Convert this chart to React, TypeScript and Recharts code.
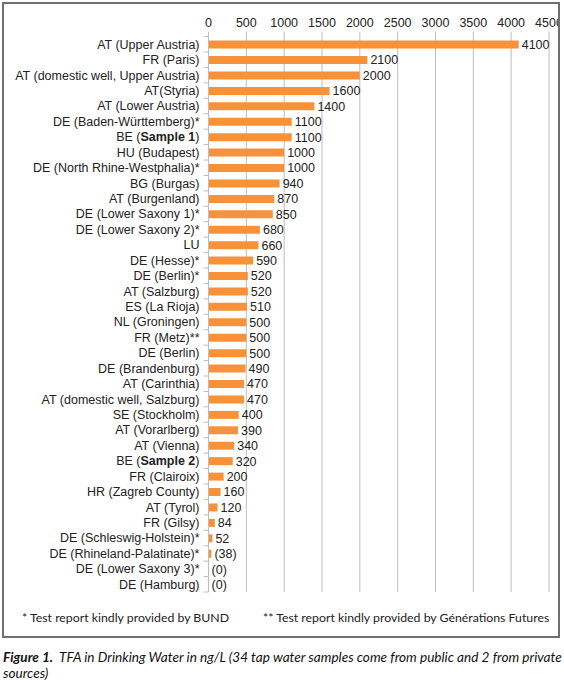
import React from "react";
import { BarChart, Bar, XAxis, YAxis, CartesianGrid, LabelList } from "recharts";

const CATEGORIES = [
  "AT (Upper Austria)",
  "FR (Paris)",
  "AT (domestic well, Upper Austria)",
  "AT(Styria)",
  "AT (Lower Austria)",
  "DE (Baden-Württemberg)*",
  "BE (Sample 1)",
  "HU (Budapest)",
  "DE (North Rhine-Westphalia)*",
  "BG (Burgas)",
  "AT (Burgenland)",
  "DE (Lower Saxony 1)*",
  "DE (Lower Saxony 2)*",
  "LU",
  "DE (Hesse)*",
  "DE (Berlin)*",
  "AT (Salzburg)",
  "ES (La Rioja)",
  "NL (Groningen)",
  "FR (Metz)**",
  "DE (Berlin)",
  "DE (Brandenburg)",
  "AT (Carinthia)",
  "AT (domestic well, Salzburg)",
  "SE (Stockholm)",
  "AT (Vorarlberg)",
  "AT (Vienna)",
  "BE (Sample 2)",
  "FR (Clairoix)",
  "HR (Zagreb County)",
  "AT (Tyrol)",
  "FR (Gilsy)",
  "DE (Schleswig-Holstein)*",
  "DE (Rhineland-Palatinate)*",
  "DE (Lower Saxony 3)*",
  "DE (Hamburg)",
];

const VALUES = [
  4100, 2100, 2000, 1600, 1400, 1100, 1100, 1000, 1000, 940, 870, 850, 680, 660,
  590, 520, 520, 510, 500, 500, 500, 490, 470, 470, 400, 390, 340, 320, 200, 160,
  120, 84, 52, 38, 0, 0,
];

const VALUE_LABELS = [
  "4100", "2100", "2000", "1600", "1400", "1100", "1100", "1000", "1000", "940",
  "870", "850", "680", "660", "590", "520", "520", "510", "500", "500", "500",
  "490", "470", "470", "400", "390", "340", "320", "200", "160", "120", "84",
  "52", "(38)", "(0)", "(0)",
];

const X_TICKS = [0, 500, 1000, 1500, 2000, 2500, 3000, 3500, 4000, 4500];
const BOLD_PARTS = /(Sample \d)/;

const FOOTNOTE_1 = "* Test report kindly provided by BUND";
const FOOTNOTE_2 = "** Test report kindly provided by Générations Futures";
const CAPTION_BOLD = "Figure 1.";
const CAPTION_LINE1 = "  TFA in Drinking Water in ng/L (34 tap water samples come from public and 2 from private";
const CAPTION_LINE2 = "sources)";

const data = CATEGORIES.map((name, i) => ({
  name,
  value: VALUES[i],
  label: VALUE_LABELS[i],
}));

const CHART_W = 564;
const CHART_H = 640;
const MARGIN = { top: 6.6, right: 15, bottom: 48, left: 8.5 };
const X_AXIS_H = 30;
const Y_AXIS_W = 200;
const PLOT_H = CHART_H - MARGIN.top - X_AXIS_H - MARGIN.bottom;
const BAND = PLOT_H / CATEGORIES.length;
const TICK_SIZE = 5;
const TICK_MARGIN = 4;
const FONT = '"Liberation Sans", Arial, sans-serif';
const FS = 12.5;
const GRID = "#bdbdbd";
const BAR_COLOR = "#f7923a";

function YTick(props: any) {
  const { x, y, payload, index } = props;
  const name: string = payload.value;
  const parts = name.split(BOLD_PARTS).filter((p) => p.length > 0);
  const lx1 = x + TICK_MARGIN;
  const lx2 = lx1 + TICK_SIZE;
  return (
    <g>
      <line x1={lx1} x2={lx2} y1={y - BAND / 2} y2={y - BAND / 2} stroke={GRID} />
      {index === CATEGORIES.length - 1 && (
        <line x1={lx1} x2={lx2} y1={y + BAND / 2} y2={y + BAND / 2} stroke={GRID} />
      )}
      <text
        x={x}
        y={y}
        dy="0.355em"
        textAnchor="end"
        fontFamily={FONT}
        fontSize={FS}
        fill="#222"
      >
        {parts.map((p, i) => (
          <tspan key={i} fontWeight={BOLD_PARTS.test(p) ? "bold" : undefined}>
            {p}
          </tspan>
        ))}
      </text>
    </g>
  );
}

export default function App() {
  return (
    <div
      style={{
        position: "absolute",
        left: 0,
        top: 0,
        width: 564,
        height: 680,
        background: "#fff",
        overflow: "hidden",
      }}
    >
      <div
        style={{
          position: "absolute",
          left: 2,
          top: 2,
          width: 558,
          height: 636,
          border: "2px solid #707070",
          boxSizing: "border-box",
          overflow: "hidden",
        }}
      >
        <div style={{ position: "absolute", left: -4, top: -4 }}>
          <BarChart
            width={CHART_W}
            height={CHART_H}
            data={data}
            layout="vertical"
            margin={MARGIN}
            barSize={8}
          >
            <CartesianGrid horizontal={false} stroke={GRID} />
            <XAxis
              type="number"
              orientation="top"
              domain={[0, 4500]}
              ticks={X_TICKS}
              interval={0}
              height={X_AXIS_H}
              axisLine={false}
              tickLine={{ stroke: GRID }}
              tickSize={TICK_SIZE}
              tickMargin={5}
              tick={{ fontFamily: FONT, fontSize: FS, fill: "#222" }}
            />
            <XAxis
              xAxisId="bottom"
              type="number"
              orientation="bottom"
              domain={[0, 4500]}
              height={0}
              tick={false}
              tickLine={false}
              axisLine={{ stroke: GRID }}
            />
            <YAxis
              type="category"
              dataKey="name"
              width={Y_AXIS_W}
              interval={0}
              axisLine={{ stroke: GRID }}
              tickLine={false}
              tickSize={TICK_SIZE}
              tickMargin={TICK_MARGIN}
              tick={<YTick />}
            />
            <Bar
              dataKey="value"
              fill={BAR_COLOR}
              minPointSize={0.1}
              isAnimationActive={false}
            >
              <LabelList
                dataKey="label"
                position="right"
                offset={3}
                fontFamily={FONT}
                fontSize={FS}
                fill="#222"
              />
            </Bar>
          </BarChart>
        </div>
      </div>
      <div
        style={{
          position: "absolute",
          left: 22,
          top: 609.5,
          lineHeight: "16px",
          fontFamily: "Lato, sans-serif",
          fontSize: 12.3,
          color: "#222",
          whiteSpace: "nowrap",
        }}
      >
        {FOOTNOTE_1}
      </div>
      <div
        style={{
          position: "absolute",
          left: 263,
          top: 609.5,
          lineHeight: "16px",
          fontFamily: "Lato, sans-serif",
          fontSize: 12.3,
          color: "#222",
          whiteSpace: "nowrap",
        }}
      >
        {FOOTNOTE_2}
      </div>
      <div
        style={{
          position: "absolute",
          left: 3,
          top: 648.5,
          lineHeight: "16px",
          fontFamily: "Lato, sans-serif",
          fontSize: 13.6,
          fontStyle: "italic",
          color: "#111",
          whiteSpace: "pre",
        }}
      >
        <span style={{ fontWeight: "bold" }}>{CAPTION_BOLD}</span>
        {CAPTION_LINE1}
        <br />
        {CAPTION_LINE2}
      </div>
    </div>
  );
}
